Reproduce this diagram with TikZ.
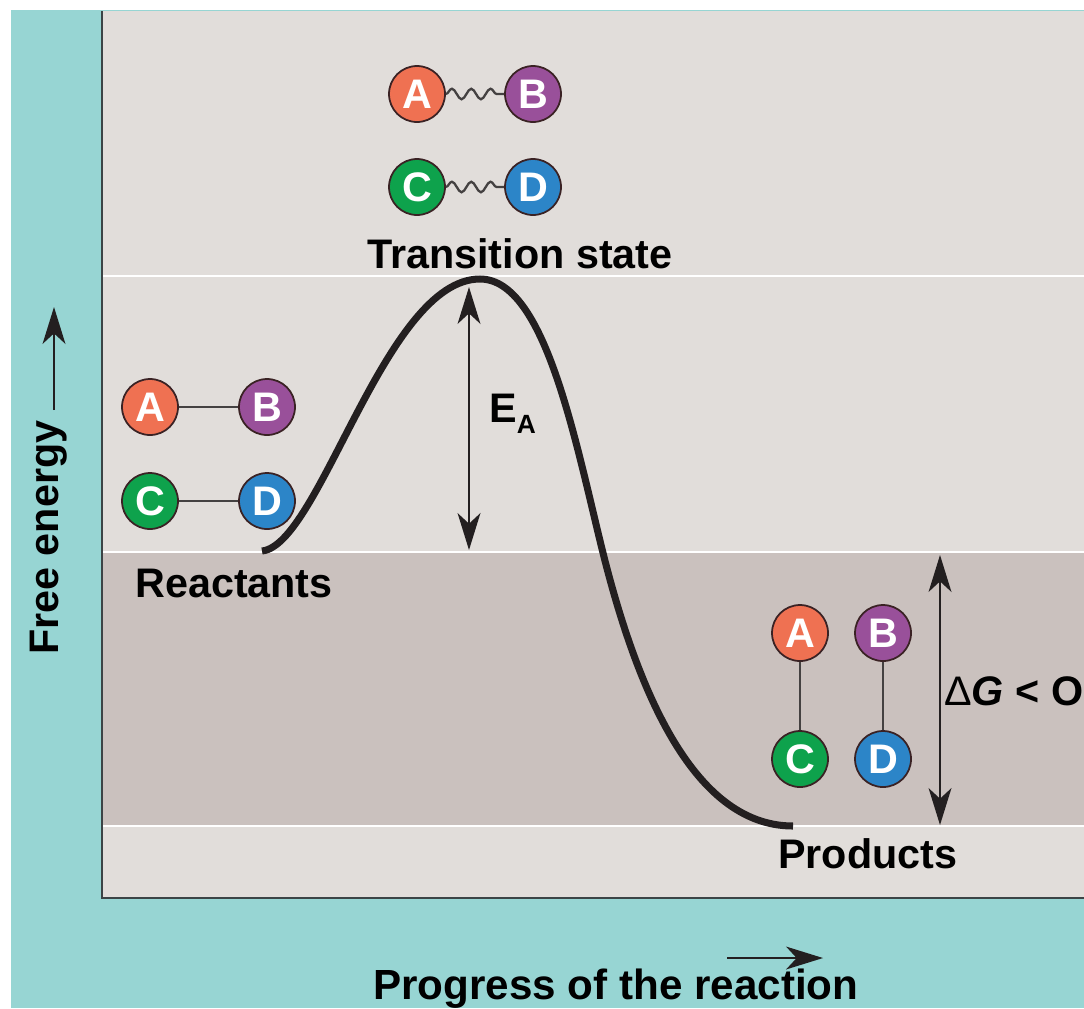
\documentclass[tikz,border=0pt]{standalone}
\usepackage{fontspec}
\setmainfont{Liberation Sans}
\usetikzlibrary{arrows.meta, decorations.pathmorphing}
\definecolor{tealbg}{HTML}{97D5D3}
\definecolor{panel}{HTML}{E1DDDA}
\definecolor{lowband}{HTML}{CAC1BE}
\definecolor{frame}{HTML}{3C4446}
\definecolor{inkline}{HTML}{231F20}
\definecolor{atomline}{HTML}{3A2224}
\definecolor{atomA}{HTML}{EF7152}
\definecolor{atomB}{HTML}{99509A}
\definecolor{atomC}{HTML}{0EA24C}
\definecolor{atomD}{HTML}{2C85C8}
\newcommand{\diagfont}{\fontsize{23.5}{28}\selectfont\bfseries}

\begin{document}
\begin{tikzpicture}[
  x=0.02cm, y=-0.02cm,
  >={Stealth[length=21pt, width=13pt, inset=6pt]},
  atom/.style={circle, draw=atomline, line width=1pt, fill=#1, minimum size=1.12cm,
    inner sep=0pt, text=white, font=\diagfont},
  bond/.style={line width=1.1pt, draw=inkline!85},
  wavy/.style={bond, line width=1.3pt, decorate,
    decoration={snake, segment length=11pt, amplitude=3pt}},
  lbl/.style={font=\diagfont, anchor=base west, inner sep=0pt, text=black},
  gap/.style={<->, line width=1.1pt, inkline},
  sep/.style={white, line width=1.2pt},
]

% Background
\useasboundingbox (0,0) rectangle (1084,1008);
\fill[white] (0,0) rectangle (1084,1008);
\fill[tealbg] (11,10) rectangle (1084,1008);
\fill[panel] (102,11) rectangle (1084,898);
\fill[lowband] (102,552) rectangle (1084,826);
\draw[sep] (103,276) -- (1084,276);
\draw[sep] (103,552) -- (1084,552);
\draw[sep] (103,826) -- (1084,826);
\draw[frame, line width=1.2pt] (102,11) -- (102,898) -- (1084,898);

% Energy curve
\draw[inkline, line width=4pt] (262,551) .. controls (320,545) and (385,279) .. (480,279)
  .. controls (545,279) and (575,440) .. (603,553)
  .. controls (635,680) and (690,826) .. (793,826);

% === Transition state ===
\node[atom=atomA] (tA) at (417,94) {A};
\node[atom=atomB] (tB) at (533,94) {B};
\node[atom=atomC] (tC) at (417,187) {C};
\node[atom=atomD] (tD) at (533,187) {D};
\draw[wavy] (tA.east) -- (tB.west);
\draw[wavy] (tC.east) -- (tD.west);
\node[lbl] (tslabel) at (367,268) {Transition state};

% === Reactants ===
\node[atom=atomA] (rA) at (150,407) {A};
\node[atom=atomB] (rB) at (267,407) {B};
\node[atom=atomC] (rC) at (150,501) {C};
\node[atom=atomD] (rD) at (267,501) {D};
\draw[bond] (rA) -- (rB);
\draw[bond] (rC) -- (rD);
\node[lbl] (reactants) at (135,597) {Reactants};

% === Products ===
\node[atom=atomA] (pA) at (800,633) {A};
\node[atom=atomB] (pB) at (883,633) {B};
\node[atom=atomC] (pC) at (800,759) {C};
\node[atom=atomD] (pD) at (883,759) {D};
\draw[bond] (pA) -- (pC);
\draw[bond] (pB) -- (pD);
\node[lbl] (products) at (778,868) {Products};

% Energy differences
\coordinate (eaTop) at (469,287);
\coordinate (eaBot) at (469,550);
\draw[gap] (eaTop) -- (eaBot);
\node[lbl] (ealabel) at (489,422) {E\raisebox{-0.28em}{\fontsize{15}{18}\selectfont A}};
\coordinate (dgTop) at (940,555);
\coordinate (dgBot) at (940,825);
\draw[gap] (dgTop) -- (dgBot);
\node[lbl] (dglabel) at (944,705) {{\fontseries{m}\selectfont Δ}\textit{G} < O};

% Axes
\node[lbl, rotate=90] (ylabel) at (58,655) {Free energy};
\coordinate (yFrom) at (54,410);
\coordinate (yTo) at (54,307);
\draw[->, line width=1.1pt, inkline] (yFrom) -- (yTo);
\node[lbl, font=\fontsize{24}{28}\selectfont\bfseries] (xlabel) at (373,999) {Progress of the reaction};
\coordinate (xFrom) at (727,958);
\coordinate (xTo) at (823,958);
\draw[->, line width=1.1pt, inkline] (xFrom) -- (xTo);

\end{tikzpicture}
\end{document}
